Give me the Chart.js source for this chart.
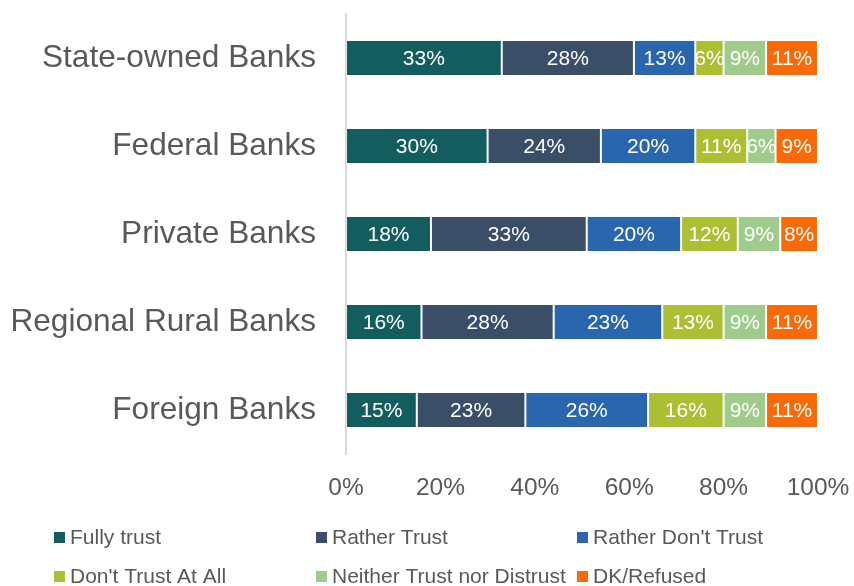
<!DOCTYPE html>
<html>
<head>
<meta charset="utf-8">
<script src="https://cdn.jsdelivr.net/npm/chart.js@4/dist/chart.umd.min.js"></script>
<style>
  html, body { margin: 0; padding: 0; background: #ffffff; }
  #wrap { width: 854px; height: 586px; }
</style>
</head>
<body>
<div id="wrap"><canvas id="c" width="854" height="586"></canvas></div>
<script>
const categories = ['State-owned Banks', 'Federal Banks', 'Private Banks', 'Regional Rural Banks', 'Foreign Banks'];
const seriesNames = ['Fully trust', 'Rather Trust', "Rather Don't Trust", "Don't Trust At All", 'Neither Trust nor Distrust', 'DK/Refused'];
const fullyTrust      = [33, 30, 18, 16, 15];
const ratherTrust     = [28, 24, 33, 28, 23];
const ratherDontTrust = [13, 20, 20, 23, 26];
const dontTrustAtAll  = [6, 11, 12, 13, 16];
const neither         = [9, 6, 9, 9, 9];
const dkRefused       = [11, 9, 8, 11, 11];
const xTicks = [0, 20, 40, 60, 80, 100];

const colors = ['#135d5e', '#3a4e67', '#2966ad', '#acbf33', '#9fcc8d', '#fb6a05'];
const seriesValues = [fullyTrust, ratherTrust, ratherDontTrust, dontTrustAtAll, neither, dkRefused];
const FONT = '"Liberation Sans", Arial, sans-serif';
const GREY = '#595959';

// White percentage labels centred inside each segment
const segmentLabels = {
  id: 'segmentLabels',
  afterDatasetsDraw(chart) {
    const ctx = chart.ctx;
    ctx.save();
    ctx.font = '21px ' + FONT;
    ctx.fillStyle = '#ffffff';
    ctx.textAlign = 'center';
    ctx.textBaseline = 'middle';
    chart.data.datasets.forEach((ds, i) => {
      chart.getDatasetMeta(i).data.forEach((bar, j) => {
        const cx = (bar.x + bar.base) / 2;
        ctx.fillText(ds.data[j] + '%', cx, bar.y + 1);
      });
    });
    ctx.restore();
  }
};

// Three-column legend under the axis
const gridLegend = {
  id: 'gridLegend',
  afterDraw(chart) {
    const ctx = chart.ctx;
    const colX = [54, 316, 577];
    const rowY = [538, 577];
    ctx.save();
    ctx.font = '21px ' + FONT;
    ctx.textBaseline = 'middle';
    ctx.textAlign = 'left';
    chart.data.datasets.forEach((ds, i) => {
      const x = colX[i % 3];
      const y = rowY[Math.floor(i / 3)];
      ctx.fillStyle = ds.backgroundColor;
      ctx.fillRect(x, y - 6, 11, 11);
      ctx.fillStyle = GREY;
      ctx.fillText(ds.label, x + 16, y);
    });
    ctx.restore();
  }
};

// Keep the plot box fixed: the axes reserve no extra edge padding for their labels
function noEdgePadding(scale) {
  scale.paddingTop = 0;
  scale.paddingBottom = 0;
  scale.paddingLeft = 0;
  scale.paddingRight = 0;
}

new Chart(document.getElementById('c'), {
  type: 'bar',
  data: {
    labels: categories,
    datasets: seriesNames.map((name, i) => ({
      label: name,
      data: seriesValues[i],
      backgroundColor: colors[i],
      borderColor: 'rgba(255,255,255,0.45)',
      borderWidth: 1,
      borderSkipped: false,
      barPercentage: 0.41,
      categoryPercentage: 1.0
    }))
  },
  options: {
    indexAxis: 'y',
    responsive: false,
    animation: false,
    layout: { padding: { top: 14, right: 36, left: 0, bottom: 0 } },
    plugins: {
      legend: { display: false },
      tooltip: { enabled: false }
    },
    scales: {
      x: {
        stacked: true,
        min: 0,
        max: 100,
        afterBuildTicks(scale) { scale.ticks = xTicks.map(v => ({ value: v })); },
        afterFit(scale) { scale.height = 132; noEdgePadding(scale); },
        grid: { display: false, drawTicks: false, tickLength: 0 },
        border: { display: false },
        ticks: {
          padding: 20,
          color: GREY,
          font: { family: FONT, size: 24.5 },
          callback: v => v + '%',
          maxRotation: 0
        }
      },
      y: {
        stacked: true,
        afterFit(scale) { scale.width = 346; noEdgePadding(scale); },
        grid: { display: false, drawTicks: false, tickLength: 0 },
        border: { display: true, color: '#d9d9d9', width: 2 },
        ticks: {
          padding: 30,
          color: GREY,
          font: { family: FONT, size: 31.6 }
        }
      }
    }
  },
  plugins: [segmentLabels, gridLegend]
});
</script>
</body>
</html>
